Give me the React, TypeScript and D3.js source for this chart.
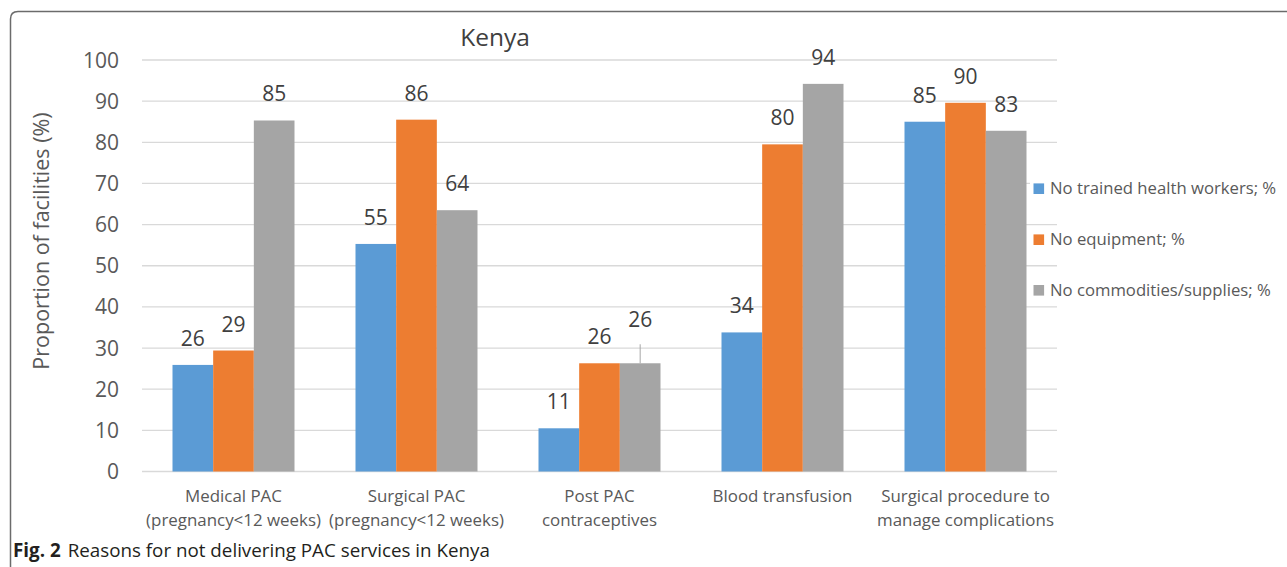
import React from "react";
import * as d3 from "d3";

const categories: string[][] = [
  ["Medical PAC", "(pregnancy<12 weeks)"],
  ["Surgical PAC", "(pregnancy<12 weeks)"],
  ["Post PAC", "contraceptives"],
  ["Blood transfusion"],
  ["Surgical procedure to", "manage complications"],
];
const seriesNames = ["No trained health workers; %", "No equipment; %", "No commodities/supplies; %"];
const noTrained = [25.9, 55.3, 10.5, 33.8, 85.0];
const noEquipment = [29.4, 85.5, 26.3, 79.5, 89.6];
const noCommodities = [85.3, 63.5, 26.3, 94.2, 82.8];
const seriesColors = ["#5b9bd5", "#ed7d31", "#a5a5a5"];
const yTicks = [0, 10, 20, 30, 40, 50, 60, 70, 80, 90, 100];

const W = 1287;
const H = 567;
const FONT = "'Open Sans', 'Noto Sans', sans-serif";

export default function App() {
  const series = [noTrained, noEquipment, noCommodities];
  const x0 = d3.scaleBand<number>().domain(categories.map((_, i) => i)).range([142, 1057]);
  const x1 = d3.scaleBand<number>().domain([0, 1, 2]).range([0, x0.bandwidth()]).paddingOuter(0.75).paddingInner(0);
  const y = d3.scaleLinear().domain([0, 100]).range([471.5, 60]);

  const bars: React.ReactNode[] = [];
  const labels: React.ReactNode[] = [];
  series.forEach((vals, s) => {
    vals.forEach((v, i) => {
      const bx = (x0(i) as number) + (x1(s) as number);
      const bw = x1.bandwidth();
      bars.push(
        <rect key={`b${s}-${i}`} x={bx} y={y(v)} width={bw} height={y(0) - y(v)} fill={seriesColors[s]} />
      );
      const cx = bx + bw / 2;
      const offsetLeader = s === 2 && i === 2;
      const baseY = offsetLeader ? y(v) - 36 : y(v) - 19;
      if (offsetLeader) {
        labels.push(
          <line key={`ll${s}-${i}`} x1={cx} x2={cx} y1={y(v)} y2={y(v) - 19} stroke="#a6a6a6" strokeWidth={1} />
        );
      }
      labels.push(
        <text key={`l${s}-${i}`} x={cx} y={baseY} textAnchor="middle" fontSize={21} fill="#404040" fontFamily={FONT}>
          {Math.round(v)}
        </text>
      );
    });
  });

  return (
    <svg width={W} height={H} style={{ position: "absolute", left: 0, top: 0, background: "#fff" }}>
      <rect x={0} y={0} width={W} height={H} fill="#fff" />
      <path d={`M10.5,${H + 2} L10.5,19 Q10.5,11.5 18,11.5 L${W + 2},11.5`} fill="none" stroke="#6b6b6b" strokeWidth={1.5} />
      <text x={495} y={46} textAnchor="middle" fontSize={24.5} fill="#404040" fontFamily={FONT}>Kenya</text>
      {yTicks.map((t) => (
        <g key={`t${t}`}>
          <line x1={142} x2={1057} y1={y(t)} y2={y(t)} stroke="#d9d9d9" strokeWidth={t === 0 ? 1.5 : 1.3} />
          <text x={119} y={y(t) + 7.5} textAnchor="end" fontSize={21} fill="#595959" fontFamily={FONT}>{t}</text>
        </g>
      ))}
      <text transform={`translate(49,241) rotate(-90)`} textAnchor="middle" fontSize={21.5} fill="#595959" fontFamily={FONT}>
        Proportion of facilities (%)
      </text>
      {bars}
      {labels}
      {categories.map((lines, i) => (
        <text key={`c${i}`} textAnchor="middle" fontSize={16.9} fill="#595959" fontFamily={FONT}>
          {lines.map((ln, j) => (
            <tspan key={j} x={(x0(i) as number) + x0.bandwidth() / 2} y={502 + j * 24}>{ln}</tspan>
          ))}
        </text>
      ))}
      {seriesNames.map((n, s) => {
        const cy = [188.7, 239.7, 290.3][s];
        return (
          <g key={`lg${s}`}>
            <rect x={1030} y={cy - 11} width={W - 1030} height={22} fill="#fff" />
            <rect x={1033.5} y={cy - 5.3} width={10.6} height={10.6} fill={seriesColors[s]} />
            <text x={1050} y={cy + 5.5} fontSize={16.7} fill="#595959" fontFamily={FONT}>{n}</text>
          </g>
        );
      })}
      <text x={13} y={557} fontSize={18.8} fill="#231f20" fontFamily={FONT}>
        <tspan fontWeight="bold">Fig. 2</tspan>
        <tspan dx={7}>Reasons for not delivering PAC services in Kenya</tspan>
      </text>
    </svg>
  );
}
